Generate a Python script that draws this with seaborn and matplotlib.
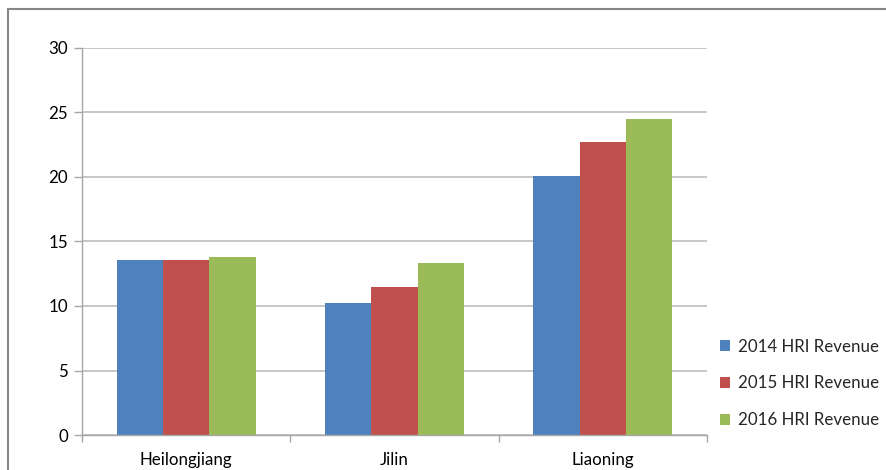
import matplotlib
matplotlib.use("Agg")
import matplotlib.pyplot as plt
from matplotlib.patches import Rectangle, Patch
import seaborn as sns
import pandas as pd

provinces = ["Heilongjiang", "Jilin", "Liaoning"]
series = ["2014 HRI Revenue", "2015 HRI Revenue", "2016 HRI Revenue"]
rev_2014 = [13.6, 10.27, 20.08]
rev_2015 = [13.6, 11.5, 22.71]
rev_2016 = [13.76, 13.33, 24.5]
colors = ["#4F81BD", "#C0504D", "#9BBB59"]

df = pd.DataFrame({
    "Province": provinces * 3,
    "Series": [s for s in series for _ in provinces],
    "Revenue": rev_2014 + rev_2015 + rev_2016,
})

sns.set_theme(style="white")
plt.rcParams["font.family"] = ["Lato", "DejaVu Sans"]

W, H = 887, 470
fs = 12.2
fig = plt.figure(figsize=(W / 100, H / 100), dpi=100)
ax = fig.add_axes([82 / W, 1 - 435 / H, (707 - 82) / W, (435 - 48) / H])

sns.barplot(data=df, x="Province", y="Revenue", hue="Series", order=provinces,
            hue_order=series, palette=colors, width=0.667, saturation=1,
            linewidth=0, ax=ax, legend=False)

ax.set_ylim(0, 30)
ax.set_xlim(-0.5, 2.5)
ax.set_yticks(range(0, 31, 5))
ax.yaxis.grid(True, color="#BEBEBE", linewidth=1.2)
ax.set_axisbelow(True)
ax.set_xlabel("")
ax.set_ylabel("")

for side in ["top", "right"]:
    ax.spines[side].set_visible(False)
for side in ["left", "bottom"]:
    ax.spines[side].set_color("#A6A6A6")
    ax.spines[side].set_linewidth(1.0)

ax.set_xticks([-0.5, 0.5, 1.5, 2.5], minor=True)
ax.tick_params(axis="x", which="minor", length=5, color="#A6A6A6", width=1, direction="out")
ax.tick_params(axis="x", which="major", length=0, pad=12, labelsize=fs, labelcolor="black")
ax.tick_params(axis="y", which="major", length=6, color="#A6A6A6", width=1,
               direction="out", pad=4, labelsize=fs, labelcolor="black")
ax.tick_params(left=True, bottom=False)
ax.tick_params(axis="x", which="minor", bottom=True)

handles = [Patch(facecolor=c, edgecolor="none", label=s) for c, s in zip(colors, series)]
fig.legend(handles=handles, loc="upper left", bbox_to_anchor=(713 / W, 1 - 332 / H),
           frameon=False, fontsize=fs, handlelength=0.6, handleheight=0.6,
           handletextpad=0.45, labelspacing=1.22, borderaxespad=0)

fig.patches.append(Rectangle((8.5 / W, -0.05), 1.2, 1 - 8.5 / H + 0.05,
                             transform=fig.transFigure, fill=False,
                             edgecolor="#868686", linewidth=1.5))

fig.savefig("out.png", dpi=100)
